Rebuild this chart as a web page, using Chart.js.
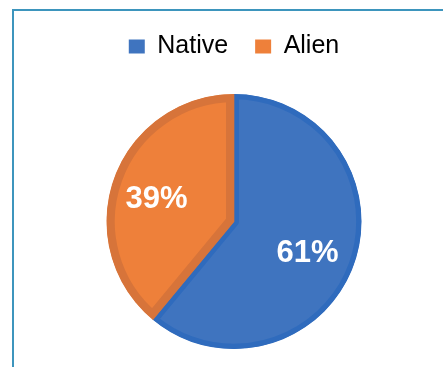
<!DOCTYPE html>
<html>
<head>
<meta charset="utf-8">
<script src="https://cdn.jsdelivr.net/npm/chart.js@4/dist/chart.umd.min.js"></script>
<style>
    html, body { margin: 0; padding: 0; background: #ffffff; overflow: hidden; }
    #frame {
        position: absolute; left: 12px; top: 9px;
        width: 600px; height: 600px;
        border-left: 2px solid #3d95bd;
        border-top: 2px solid #3d95bd;
    }
    #pieChart { position: absolute; left: 0; top: 0; }
</style>
</head>
<body>
<div id="frame"></div>
<canvas id="pieChart" width="443" height="367"></canvas>
<script>
var labels = ["Native", "Alien"];
var shares = [61, 39];
var fillColors = ["#3f74bf", "#ee803a"];
var edgeColors = ["#2f6bbd", "#d7743a"];

// extra room between legend and pie
var legendGap = {
    id: 'legendGap',
    beforeLayout: function(chart) {
        var legend = chart.legend;
        if (legend && !legend._gapPatched) {
            var fit = legend.fit;
            legend.fit = function() {
                fit.call(this);
                this.height += 25;
            };
            legend._gapPatched = true;
        }
    }
};

// writes the percentage inside each slice
var sliceLabels = {
    id: 'sliceLabels',
    afterDatasetsDraw: function(chart) {
        var ctx = chart.ctx;
        var meta = chart.getDatasetMeta(0);
        var total = shares.reduce(function(a, b) { return a + b; }, 0);
        ctx.save();
        ctx.fillStyle = "#ffffff";
        ctx.font = "bold 31px 'Liberation Sans', Arial, sans-serif";
        ctx.textAlign = "center";
        ctx.textBaseline = "middle";
        meta.data.forEach(function(arc, i) {
            var p = arc.getProps(['x', 'y', 'startAngle', 'endAngle', 'outerRadius'], true);
            var mid = (p.startAngle + p.endAngle) / 2;
            var r = p.outerRadius * 0.63;
            var text = Math.round(shares[i] / total * 100) + "%";
            // digits sit a little above the middle line, nudge them down
            ctx.fillText(text, p.x + Math.cos(mid) * r - 2, p.y + Math.sin(mid) * r + 5);
        });
        ctx.restore();
    }
};

var pieChart = new Chart(document.getElementById('pieChart'), {
    type: 'pie',
    data: {
        labels: labels,
        datasets: [{
            data: shares,
            backgroundColor: fillColors,
            borderColor: edgeColors,
            borderWidth: [5, 8],
            borderAlign: 'inner'
        }]
    },
    options: {
        responsive: false,
        animation: false,
        layout: {
            padding: { top: 7, bottom: 18, left: 25, right: 0 }
        },
        plugins: {
            legend: {
                position: 'top',
                labels: {
                    boxWidth: 16,
                    boxHeight: 14,
                    padding: 27,
                    color: "#1f1f1f",
                    font: { family: "'Liberation Sans', Arial, sans-serif", size: 25 },
                    generateLabels: function(chart) {
                        return labels.map(function(name, i) {
                            return {
                                text: name,
                                fillStyle: fillColors[i],
                                strokeStyle: fillColors[i],
                                lineWidth: 0,
                                index: i
                            };
                        });
                    }
                }
            },
            tooltip: { enabled: false }
        }
    },
    plugins: [legendGap, sliceLabels]
});
</script>
</body>
</html>
